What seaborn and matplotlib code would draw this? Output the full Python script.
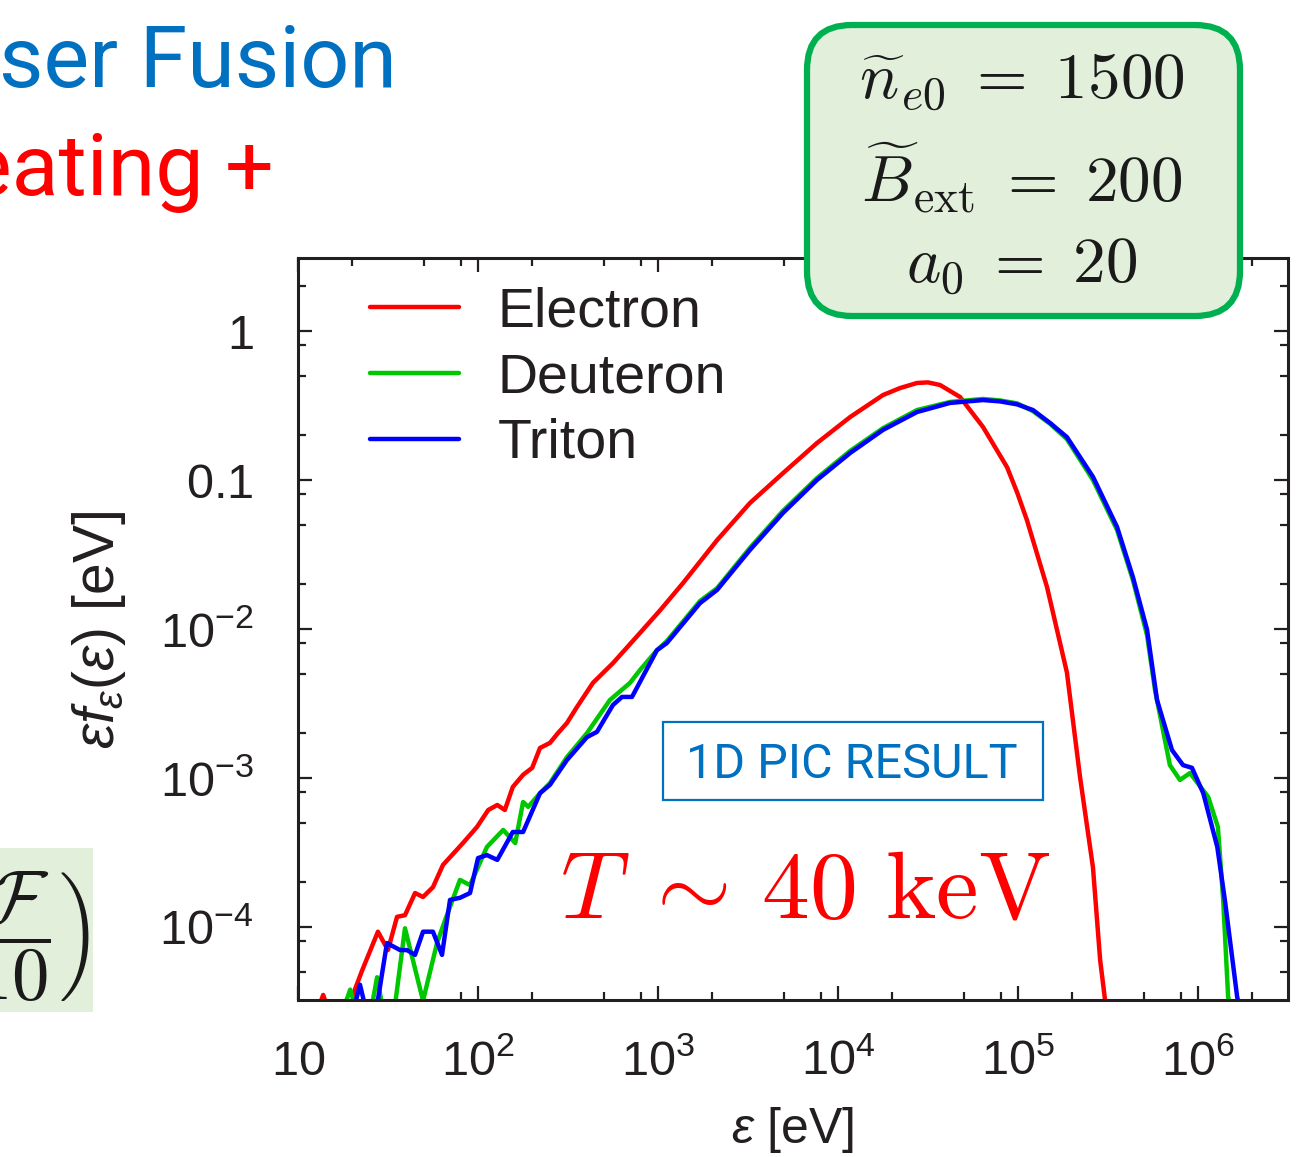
import pandas as pd
import matplotlib.pyplot as plt
import seaborn as sns
from matplotlib.patches import FancyBboxPatch, Rectangle
from matplotlib.ticker import LogLocator, NullFormatter

# ---- data (energy in eV, eps*f(eps) in eV) ----
species = ['Electron', 'Deuteron', 'Triton']

electron_energy = [12.9, 13.8, 14.7, 20.0, 20.7, 22.7, 27.8, 31.6, 35.5, 39.3, 44.7, 49.5,
                   56.2, 63.9, 82.5, 98.7, 114, 128, 141, 156, 178, 200, 221, 251,
                   278, 312, 355, 435, 562, 631, 794, 1030, 1380, 2130, 3240, 4940,
                   7640, 11700, 17800, 22100, 27500, 31600, 36900, 47600, 63900, 86900,
                   98700, 112000, 145000, 187000, 221000, 261000, 286000, 309000]
electron_f = [2.8e-5, 3.5e-5, 2.8e-5, 3.0e-5, 3.8e-5, 5.1e-5, 9.3e-5, 7.0e-5, 1.17e-4, 1.20e-4, 1.69e-4, 1.59e-4,
              1.85e-4, 2.61e-4, 3.66e-4, 4.69e-4, 6.10e-4, 6.59e-4, 6.10e-4, 8.7e-4, 1.05e-3, 1.17e-3, 1.59e-3, 1.72e-3,
              2.0e-3, 2.34e-3, 3.0e-3, 4.35e-3, 5.9e-3, 6.9e-3, 9.4e-3, 1.34e-2, 2.04e-2, 3.95e-2, 7.0e-2, 0.111,
              0.177, 0.265, 0.372, 0.414, 0.448, 0.452, 0.434, 0.361, 0.227, 0.122,
              0.083, 0.054, 0.0191, 5.1e-3, 1.02e-3, 2.5e-4, 6.0e-5, 2.8e-5]

deuteron_energy = [18.2, 19.5, 20.7, 25.8, 27.5, 29.3, 34.6, 39.3, 49.5, 59.2, 65.6, 79.4,
                   90.3, 112, 138, 161, 178, 190, 221, 251, 312, 403, 541, 699,
                   794, 986, 1120, 1710, 2130, 3240, 4940, 7640, 11700, 17800, 27500, 41900,
                   63900, 79400, 98700, 121000, 151000, 187000, 261000, 355000, 435000, 521000, 577000, 698000,
                   794000, 903000, 1140000, 1290000, 1380000, 1470000, 1520000]
deuteron_f = [3.0e-5, 3.8e-5, 3.0e-5, 3.0e-5, 4.6e-5, 3.0e-5, 3.0e-5, 9.8e-5, 3.2e-5, 7.8e-5, 1.11e-4, 2.07e-4,
              1.91e-4, 3.44e-4, 4.48e-4, 3.66e-4, 6.9e-4, 6.4e-4, 7.9e-4, 9.25e-4, 1.38e-3, 2.0e-3, 3.34e-3, 4.35e-3,
              5.3e-3, 7.2e-3, 8.3e-3, 1.54e-2, 1.88e-2, 3.5e-2, 6.2e-2, 0.103, 0.157, 0.223, 0.295, 0.334,
              0.350, 0.342, 0.327, 0.290, 0.238, 0.188, 0.100, 0.0462, 0.0213, 9.1e-3, 3.9e-3, 1.22e-3,
              9.7e-4, 1.08e-3, 7.45e-4, 4.69e-4, 1.52e-4, 3.4e-5, 2.8e-5]

triton_energy = [20.7, 22.1, 23.5, 27.5, 31.2, 36.9, 40.3, 44.7, 49.5, 56.2, 63.1, 69.9,
                 79.4, 90.3, 100, 112, 128, 156, 178, 221, 251, 312, 403, 458,
                 562, 631, 717, 986, 1120, 1710, 2130, 3240, 4940, 7640, 11700, 17800,
                 27500, 41900, 63900, 79400, 98700, 121000, 151000, 187000, 261000, 355000, 435000, 521000,
                 592000, 717000, 826000, 926000, 1070000, 1280000, 1410000, 1650000, 1710000]
triton_f = [3.0e-5, 4.1e-5, 3.0e-5, 3.0e-5, 7.8e-5, 7.0e-5, 7.0e-5, 6.5e-5, 9.3e-5, 9.3e-5, 6.5e-5, 1.52e-4,
            1.57e-4, 1.69e-4, 2.90e-4, 3.04e-4, 2.82e-4, 4.34e-4, 4.34e-4, 7.9e-4, 9.0e-4, 1.32e-3, 1.88e-3, 2.04e-3,
            3.09e-3, 3.5e-3, 3.5e-3, 7.2e-3, 8.05e-3, 1.49e-2, 1.83e-2, 3.39e-2, 6.0e-2, 0.100, 0.152, 0.217,
            0.286, 0.329, 0.344, 0.337, 0.322, 0.295, 0.241, 0.194, 0.105, 0.0484, 0.0223, 9.9e-3,
            3.34e-3, 1.54e-3, 1.22e-3, 1.17e-3, 7.9e-4, 3.44e-4, 1.52e-4, 3.4e-5, 2.8e-5]

x_ticks = [1e1, 1e2, 1e3, 1e4, 1e5, 1e6]
x_tick_labels = ['$10$', '$10^{2}$', '$10^{3}$', '$10^{4}$', '$10^{5}$', '$10^{6}$']
y_ticks = [1, 0.1, 1e-2, 1e-3, 1e-4]
y_tick_labels = ['$1$', '$0.1$', '$10^{-2}$', '$10^{-3}$', '$10^{-4}$']

param_lines = [r'$\widetilde{n}_{e0}\;=\;1500$', r'$\widetilde{B}_{\rm ext}\;=\;200$', r'$a_0\;=\;20$']

colors = {'Electron': '#ff0000', 'Deuteron': '#00c800', 'Triton': '#0000ff'}

df = pd.concat([
    pd.DataFrame({'energy': electron_energy, 'f': electron_f, 'species': 'Electron'}),
    pd.DataFrame({'energy': deuteron_energy, 'f': deuteron_f, 'species': 'Deuteron'}),
    pd.DataFrame({'energy': triton_energy, 'f': triton_f, 'species': 'Triton'}),
], ignore_index=True)

# ---- style ----
sns.set_style('ticks')
plt.rcParams['font.family'] = ['Liberation Sans', 'DejaVu Sans']
plt.rcParams['mathtext.fontset'] = 'custom'
plt.rcParams['mathtext.rm'] = 'Liberation Sans'
plt.rcParams['mathtext.it'] = 'Liberation Sans:italic'
plt.rcParams['mathtext.bf'] = 'Liberation Sans:bold'
ink = '#231f20'

W, H = 1315, 1157
fig = plt.figure(figsize=(W / 100, H / 100), dpi=100)
ax = fig.add_axes([298 / W, 1 - 1000 / H, 990 / W, 742 / H])

sns.lineplot(data=df, x='energy', y='f', hue='species', hue_order=species,
             palette=colors, estimator=None, sort=False, linewidth=3.2, ax=ax)

ax.set_xscale('log')
ax.set_yscale('log')
ax.set_xlim(10, 10 ** 6.5)
ax.set_ylim(10 ** -4.49, 10 ** 0.49)
ax.set_xticks(x_ticks, labels=x_tick_labels)
ax.set_yticks(y_ticks, labels=y_tick_labels)
for axis in (ax.xaxis, ax.yaxis):
    axis.set_minor_locator(LogLocator(base=10, subs=[2, 5, 8], numticks=30))
    axis.set_minor_formatter(NullFormatter())

ax.tick_params(which='both', direction='in', top=True, right=True, width=1.6,
               color=ink, labelcolor=ink, labelsize=35)
ax.tick_params(which='major', length=10)
ax.tick_params(which='minor', length=5.5)
ax.tick_params(axis='x', which='major', pad=54)
ax.tick_params(axis='y', which='major', pad=32)
for lab in ax.get_xticklabels():
    lab.set_verticalalignment('baseline')
for sp in ax.spines.values():
    sp.set_linewidth(2.2)
    sp.set_color(ink)

# matplotlib: \varepsilon is the lunate form, \epsilon the open one
ax.set_xlabel(r'$\varepsilon$ [eV]', fontsize=36, color=ink)
ax.xaxis.set_label_coords(0.5, -0.1415)
ax.set_ylabel(r'$\epsilon f_{\epsilon}(\epsilon)$ [eV]', fontsize=41, color=ink)
ax.yaxis.set_label_coords(-0.172, 0.499)

handles, labels = ax.get_legend_handles_labels()
for h in handles:
    h.set_linewidth(3.2)
ax.legend(handles, labels, loc='upper left', bbox_to_anchor=(0.0727, 0.962),
          frameon=False, fontsize=40, handlelength=1.6, handletextpad=0.7,
          labelspacing=0.25, borderpad=0, borderaxespad=0, labelcolor=ink)

# ---- annotations inside the plot ----
ax.add_patch(Rectangle((663 / W, 1 - 800 / H), 380 / W, 78 / H, transform=fig.transFigure,
                       fill=False, edgecolor='#0070c0', linewidth=1.6, zorder=5))
fig.text(852 / W, 1 - 778 / H, '1D PIC RESULT', family=['Roboto', 'DejaVu Sans'],
         fontsize=35, color='#0070c0', ha='center', va='baseline')
fig.text(560 / W, 1 - 917 / H, r'$T\;\sim\,40\ \mathrm{keV}$', math_fontfamily='cm',
         fontsize=69, color='#ff0000', ha='left', va='baseline')

# ---- parameter box (top right, over the frame) ----
fig.add_artist(FancyBboxPatch((8.07, 8.41), 4.33, 2.91,
                              boxstyle='round,pad=0,rounding_size=0.45',
                              transform=fig.dpi_scale_trans, facecolor='#e2efda',
                              edgecolor='#00b050', linewidth=4.5, zorder=4))
for txt, ypix in zip(param_lines, [99, 201, 283]):
    fig.text(1022 / W, 1 - ypix / H, txt, math_fontfamily='cm', fontsize=47,
             color='#1a1a1a', ha='center', va='baseline', zorder=6)

# ---- slide fragments around the chart ----
fig.text(397 / W, 1 - 87 / H, 'ser Fusion', family=['Roboto', 'DejaVu Sans'],
         fontsize=62, color='#0070c0', ha='right', va='baseline')
fig.text(274 / W, 1 - 195 / H, 'eating +', family=['Roboto', 'DejaVu Sans'],
         fontsize=62, color='#ff0000', ha='right', va='baseline')
fig.add_artist(Rectangle((-0.1, 1.45), 1.03, 1.64, transform=fig.dpi_scale_trans,
                         facecolor='#e2efda', edgecolor='none', zorder=1))
fig.text(90 / W, 1 - 937 / H, r'$\left.\dfrac{\mathcal{F}}{10}\right)$', math_fontfamily='cm',
         fontsize=54, color='#1a1a1a', ha='right', va='center', zorder=6)

fig.savefig('out.png', dpi=100)
